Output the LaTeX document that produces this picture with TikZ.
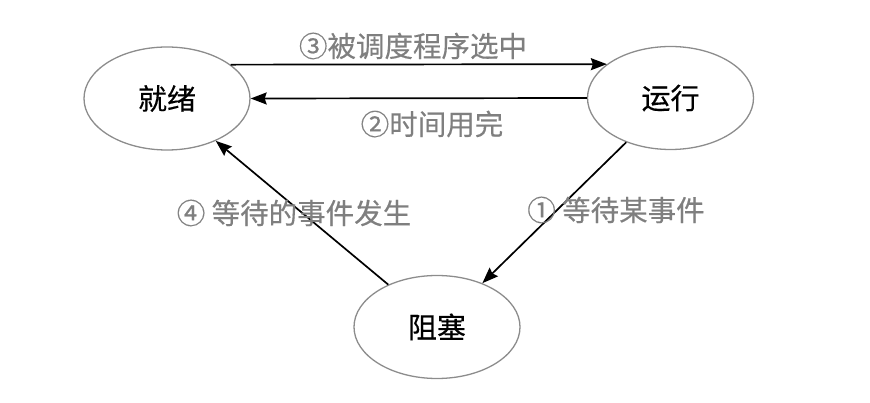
\documentclass[tikz,border=0pt]{standalone}
\usepackage{fontspec}
\setmainfont{Noto Sans CJK SC}
\newfontfamily\cjk{Noto Sans CJK SC}[FakeBold=0.4]
\usetikzlibrary{shapes.geometric,arrows.meta}
\definecolor{edgegray}{HTML}{8C8C8C}
\definecolor{labelgray}{HTML}{7F7F7F}
\begin{document}
\begin{tikzpicture}[x=1pt,y=-1pt,
  state/.style={ellipse,draw=edgegray,line width=1.3pt,minimum width=166pt,minimum height=103pt,inner sep=0pt,font=\cjk\fontsize{29}{32}\selectfont,text=black},
  conn/.style={line width=1.7pt,-{Stealth[length=16pt,width=12pt,inset=2pt]}},
  lbl/.style={font=\cjk\fontsize{28.5}{32}\selectfont,text=labelgray,inner sep=0pt}]
\useasboundingbox (0,0) rectangle (870,403);
\node[state] (ready) at (167,98.5) {就绪};
\node[state] (run) at (670.5,98) {运行};
\node[state] (block) at (437,327) {阻塞};
\draw[conn] (ready.28) -- (run.152.4);
\draw[conn] (run.west) -- (ready.east);
\draw[conn] (run.225) -- (block.44);
\draw[conn] (block.139.5) -- (ready.-41);
\node[lbl] (l3) at (413,46) {③被调度程序选中};
\node[lbl] (l2) at (432,124) {②时间用完};
\node[lbl] (l1) at (616,210) {① 等待某事件};
\node[lbl] (l4) at (294,213) {④ 等待的事件发生};
\end{tikzpicture}
\end{document}
